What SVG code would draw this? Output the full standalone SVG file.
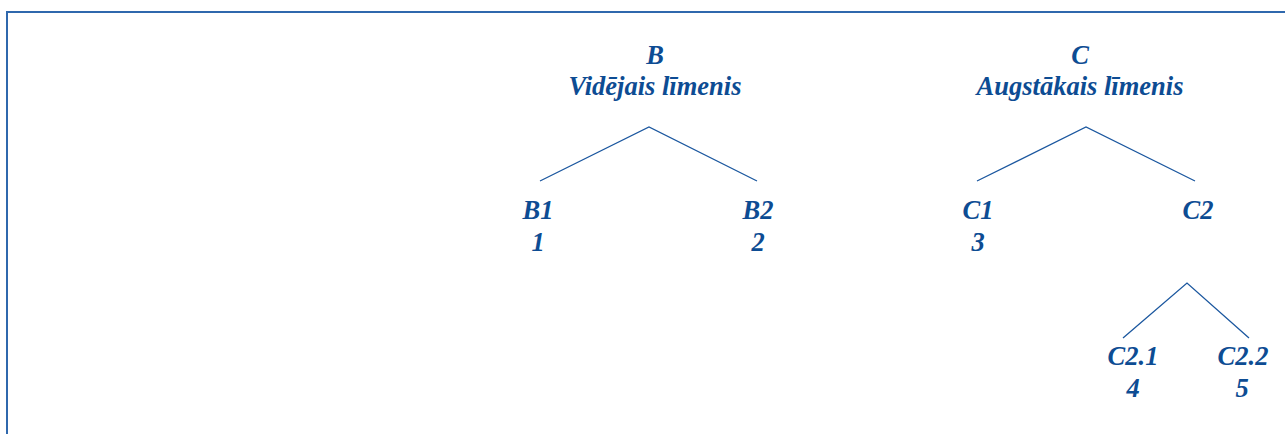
<svg xmlns="http://www.w3.org/2000/svg" width="1285" height="434" viewBox="0 0 1285 434">
<style>
.t{font-family:"Liberation Serif","Times New Roman",serif;font-size:26.5px;font-weight:bold;font-style:italic;fill:#0d4c93;text-anchor:middle}
.c{stroke:#1b579f;stroke-width:1.3;fill:none}
.f{stroke:#2f68ad;stroke-width:2;fill:none}
</style>
<rect width="1285" height="434" fill="#ffffff"/>
<path class="f" d="M7 434 V12 H1285"/>
<g id="connectors">
<polyline class="c" points="540,181 649,127 757,181"/>
<polyline class="c" points="977,181 1086,127 1195,181"/>
<polyline class="c" points="1123,338 1187,283 1249,338"/>
</g>
<g id="B"><text class="t" x="655" y="64">B</text><text class="t" x="655" y="95">Vidējais līmenis</text></g>
<g id="C"><text class="t" x="1080" y="64">C</text><text class="t" x="1080" y="95">Augstākais līmenis</text></g>
<g id="B1"><text class="t" x="538" y="219">B1</text><text class="t" x="538" y="251">1</text></g>
<g id="B2"><text class="t" x="758" y="219">B2</text><text class="t" x="758" y="251">2</text></g>
<g id="C1"><text class="t" x="978" y="219">C1</text><text class="t" x="978" y="251">3</text></g>
<g id="C2"><text class="t" x="1198" y="219">C2</text></g>
<g id="C2.1"><text class="t" x="1133" y="365">C2.1</text><text class="t" x="1133" y="397">4</text></g>
<g id="C2.2"><text class="t" x="1243" y="365">C2.2</text><text class="t" x="1242" y="397">5</text></g>
</svg>
